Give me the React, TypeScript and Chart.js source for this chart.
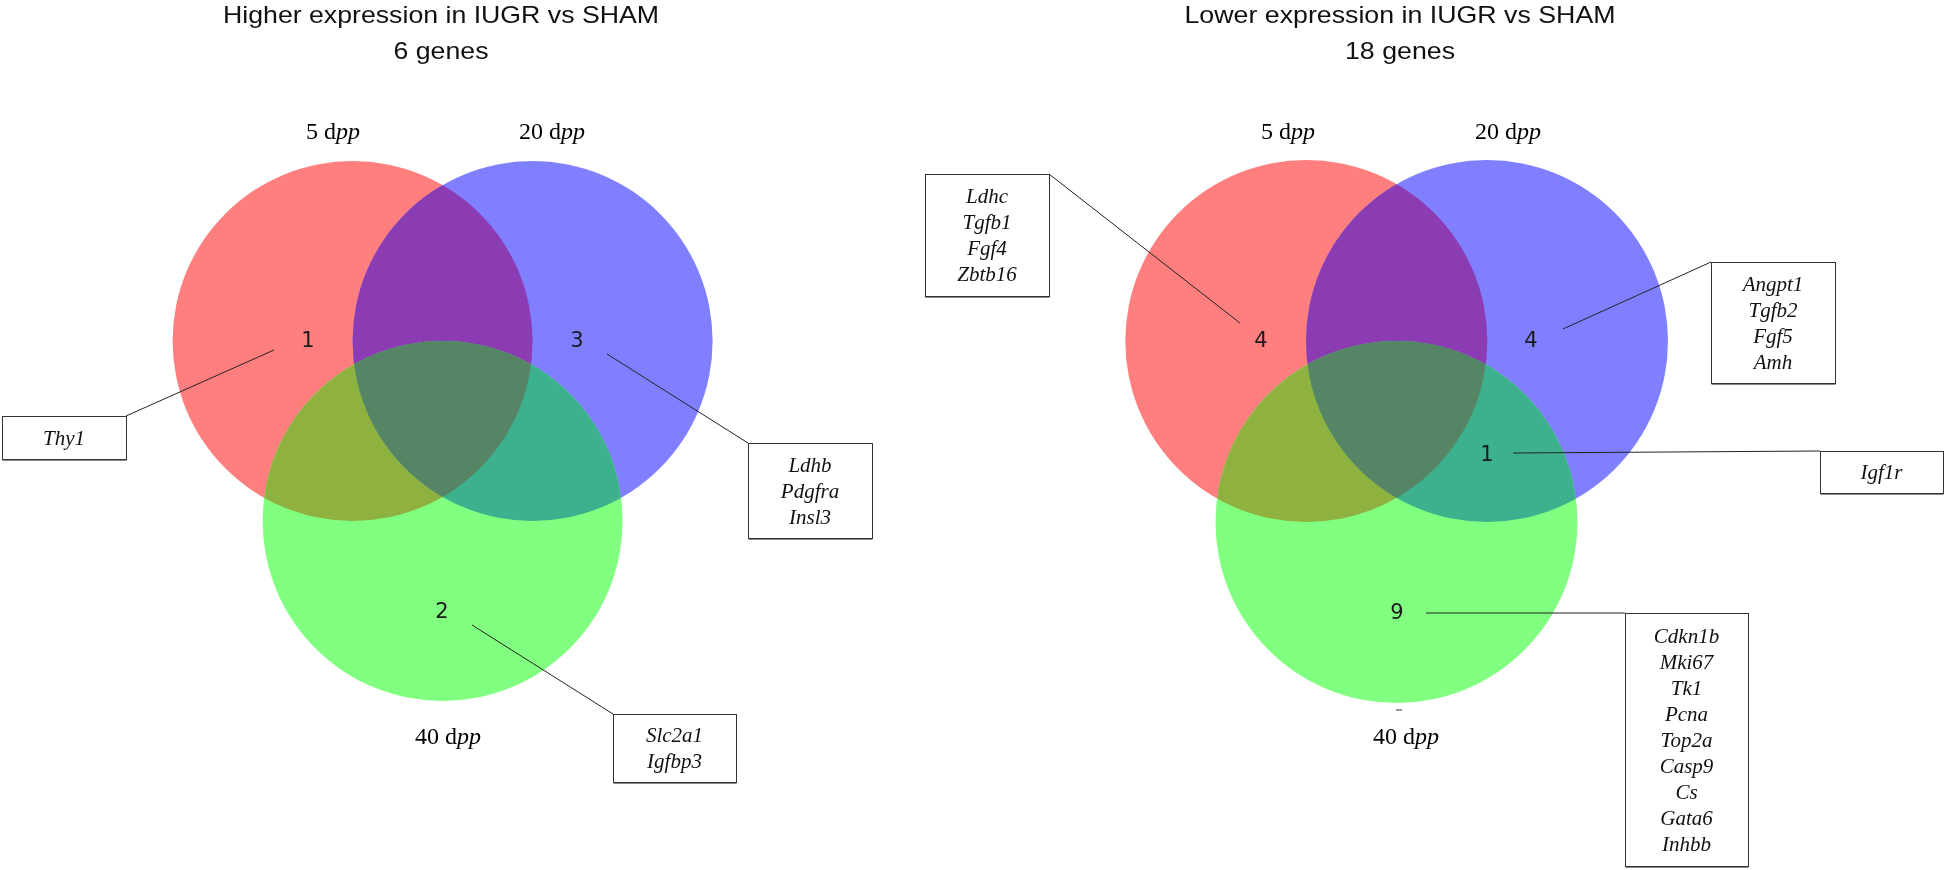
import React, { useEffect, useRef } from "react";
import { Chart, registerables } from "chart.js";

Chart.register(...registerables);

// ---------------- DATA ----------------
const panelTitles = ["Higher expression in IUGR vs SHAM", "Lower expression in IUGR vs SHAM"];
const panelTotals = [6, 18];
const setLabels = ["5 dpp", "20 dpp", "40 dpp"];

const higherRegions = ["5 dpp only", "20 dpp only", "40 dpp only"];
const higherCounts = [1, 3, 2];
const higherGenes = [["Thy1"], ["Ldhb", "Pdgfra", "Insl3"], ["Slc2a1", "Igfbp3"]];

const lowerRegions = ["5 dpp only", "20 dpp only", "20 & 40 dpp", "40 dpp only"];
const lowerCounts = [4, 4, 1, 9];
const lowerGenes = [
  ["Ldhc", "Tgfb1", "Fgf4", "Zbtb16"],
  ["Angpt1", "Tgfb2", "Fgf5", "Amh"],
  ["Igf1r"],
  ["Cdkn1b", "Mki67", "Tk1", "Pcna", "Top2a", "Casp9", "Cs", "Gata6", "Inhbb"],
];

// ---------------- LAYOUT (positions in chart units) ----------------
const W = 1946;
const H = 870;
const layouts = [
  {
    titleX: 441,
    titleW: 436,
    circles: [[352.6, 341], [532.6, 341], [442.6, 521]],
    r: 180,
    setPos: [[333, 133], [552, 133], [448, 738]],
    countPos: [[308, 342], [577, 342], [442, 613]],
    boxes: [[2, 416, 126, 459], [748, 443, 872, 538], [613, 714, 736, 782]],
    leaders: [
      [[274, 350], [126, 416]],
      [[607, 354], [748, 443]],
      [[472, 625], [613, 714]],
    ],
    dash: null as null | number[],
  },
  {
    titleX: 1400,
    titleW: 431,
    circles: [[1306.3, 341], [1487, 341], [1396.5, 522]],
    r: 181,
    setPos: [[1288, 133], [1508, 133], [1406, 738]],
    countPos: [[1261, 342], [1531, 342], [1487, 456], [1397, 614]],
    boxes: [[925, 174, 1049, 296], [1711, 262, 1835, 383], [1820, 451, 1943, 493], [1625, 613, 1748, 866]],
    leaders: [
      [[1240, 323], [1049, 174]],
      [[1563, 329], [1711, 262]],
      [[1513, 453], [1820, 451]],
      [[1426, 613], [1625, 613]],
    ],
    dash: [1396, 710, 1402, 710],
  },
];

const circleColors = ["#FF7F7F", "#7F7FFF", "#80FF80"];
const pairColors: Record<string, string> = { "01": "#8C3CB3", "02": "#8FB13F", "12": "#3DB08E" };
const tripleColor = "#568566";

const SANS = '"Liberation Sans", Arial, sans-serif';
const SERIF = '"Liberation Serif", "Times New Roman", serif';
const NUMFONT = '"DejaVu Sans", "Liberation Sans", sans-serif';

const panelData = [
  { regions: higherRegions, counts: higherCounts, genes: higherGenes },
  { regions: lowerRegions, counts: lowerCounts, genes: lowerGenes },
];

const vennPlugin = {
  id: "vennPlugin",
  beforeDatasetsDraw(chart: any) {
    const ctx: CanvasRenderingContext2D = chart.ctx;
    const xs = chart.scales.x;
    const ys = chart.scales.y;
    const px = (v: number) => xs.getPixelForValue(v);
    const py = (v: number) => ys.getPixelForValue(v);

    ctx.save();
    ctx.fillStyle = "#ffffff";
    ctx.fillRect(0, 0, chart.width, chart.height);

    layouts.forEach((L, pi) => {
      const cs = L.circles.map(([x, y]) => ({ x: px(x), y: py(y), r: px(x + L.r) - px(x) }));
      const path = (c: any) => {
        ctx.beginPath();
        ctx.arc(c.x, c.y, c.r, 0, Math.PI * 2);
      };
      cs.forEach((c, i) => {
        path(c);
        ctx.fillStyle = circleColors[i];
        ctx.fill();
      });
      const pairs = [[0, 1], [0, 2], [1, 2]];
      pairs.forEach(([a, b]) => {
        ctx.save();
        path(cs[a]);
        ctx.clip();
        path(cs[b]);
        ctx.fillStyle = pairColors[`${a}${b}`];
        ctx.fill();
        ctx.restore();
      });
      ctx.save();
      path(cs[0]);
      ctx.clip();
      path(cs[1]);
      ctx.clip();
      path(cs[2]);
      ctx.fillStyle = tripleColor;
      ctx.fill();
      ctx.restore();

      // titles
      ctx.fillStyle = "#111";
      ctx.textAlign = "center";
      ctx.textBaseline = "alphabetic";
      ctx.font = `24px ${SANS}`;
      const tw = ctx.measureText(panelTitles[pi]).width;
      const sx = L.titleW / tw;
      const drawScaled = (t: string, x: number, y: number) => {
        ctx.save();
        ctx.translate(x, y);
        ctx.scale(sx, 1);
        ctx.fillText(t, 0, 0);
        ctx.restore();
      };
      drawScaled(panelTitles[pi], px(L.titleX), py(23));
      drawScaled(`${panelTotals[pi]} genes`, px(L.titleX), py(58.5));

      // set labels: "5 d" + italic "pp"
      setLabels.forEach((lab, i) => {
        const plain = lab.slice(0, lab.length - 2);
        const ital = lab.slice(lab.length - 2);
        ctx.font = `24px ${SERIF}`;
        const w1 = ctx.measureText(plain).width;
        ctx.font = `italic 24px ${SERIF}`;
        const w2 = ctx.measureText(ital).width;
        const x0 = px(L.setPos[i][0]) - (w1 + w2) / 2;
        const y0 = py(L.setPos[i][1]);
        ctx.textAlign = "left";
        ctx.textBaseline = "middle";
        ctx.fillStyle = "#000";
        ctx.font = `24px ${SERIF}`;
        ctx.fillText(plain, x0, y0);
        ctx.font = `italic 24px ${SERIF}`;
        ctx.fillText(ital, x0 + w1, y0);
      });

      // leader lines
      ctx.strokeStyle = "#222";
      ctx.lineWidth = 1;
      L.leaders.forEach(([a, b]) => {
        ctx.beginPath();
        ctx.moveTo(px(a[0]), py(a[1]));
        ctx.lineTo(px(b[0]), py(b[1]));
        ctx.stroke();
      });

      // boxes with gene lists
      const genes = panelData[pi].genes;
      L.boxes.forEach(([x1, y1, x2, y2], bi) => {
        const X1 = Math.round(px(x1)) + 0.5;
        const Y1 = Math.round(py(y1)) + 0.5;
        const X2 = Math.round(px(x2)) + 0.5;
        const Y2 = Math.round(py(y2)) + 0.5;
        ctx.fillStyle = "#fff";
        ctx.fillRect(X1, Y1, X2 - X1, Y2 - Y1);
        ctx.strokeStyle = "#333";
        ctx.lineWidth = 1;
        ctx.strokeRect(X1, Y1, X2 - X1, Y2 - Y1);
        ctx.strokeStyle = "#888";
        ctx.beginPath();
        ctx.moveTo(X1, Y2 + 1);
        ctx.lineTo(X2, Y2 + 1);
        ctx.stroke();
        const list = genes[bi];
        const step = 26;
        const cy = (py(y1) + py(y2)) / 2 + 1.5;
        ctx.fillStyle = "#111";
        ctx.font = `italic 21px ${SERIF}`;
        ctx.textAlign = "center";
        ctx.textBaseline = "middle";
        list.forEach((g, gi) => {
          ctx.fillText(g, (px(x1) + px(x2)) / 2, cy + (gi - (list.length - 1) / 2) * step);
        });
      });

      if (L.dash) {
        ctx.strokeStyle = "#777";
        ctx.lineWidth = 1.5;
        ctx.beginPath();
        ctx.moveTo(px(L.dash[0]), py(L.dash[1]));
        ctx.lineTo(px(L.dash[2]), py(L.dash[3]));
        ctx.stroke();
      }
    });
    ctx.restore();
  },
  afterDatasetsDraw(chart: any) {
    const ctx: CanvasRenderingContext2D = chart.ctx;
    ctx.save();
    ctx.fillStyle = "#1a1a1a";
    ctx.font = `21px ${NUMFONT}`;
    ctx.textAlign = "center";
    ctx.textBaseline = "middle";
    chart.data.datasets.forEach((ds: any, di: number) => {
      const meta = chart.getDatasetMeta(di);
      meta.data.forEach((pt: any, i: number) => {
        ctx.fillText(String(ds.data[i].count), pt.x, pt.y);
      });
    });
    ctx.restore();
  },
};

export default function App() {
  const ref = useRef<HTMLCanvasElement | null>(null);
  useEffect(() => {
    document.body.style.margin = "0";
    if (!ref.current) return;
    const datasets = panelData.map((p, pi) => ({
      label: panelTitles[pi],
      data: p.counts.map((c, i) => ({
        x: layouts[pi].countPos[i][0],
        y: layouts[pi].countPos[i][1],
        count: c,
        region: p.regions[i],
      })),
      pointRadius: 0,
      pointHoverRadius: 0,
    }));
    const chart = new Chart(ref.current, {
      type: "scatter",
      data: { datasets: datasets as any },
      options: {
        responsive: false,
        animation: false,
        events: [],
        layout: { padding: 0 },
        plugins: { legend: { display: false }, tooltip: { enabled: false }, title: { display: false } },
        scales: {
          x: { type: "linear", min: 0, max: W, display: false },
          y: { type: "linear", min: 0, max: H, reverse: true, display: false },
        },
      },
      plugins: [vennPlugin],
    });
    return () => chart.destroy();
  }, []);
  return (
    <div style={{ width: W, height: H, background: "#fff" }}>
      <canvas ref={ref} width={W} height={H} style={{ display: "block" }} />
    </div>
  );
}
